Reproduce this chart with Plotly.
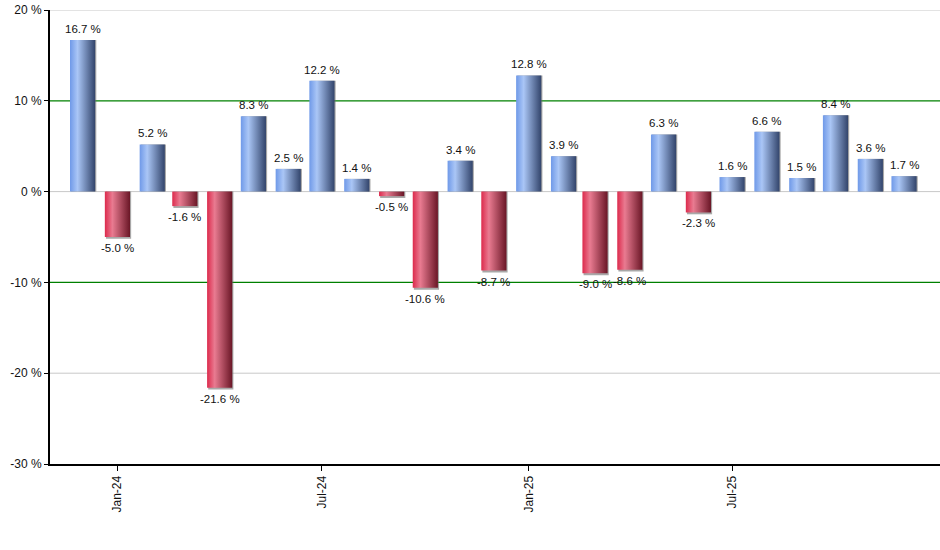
import plotly.graph_objects as go
import pandas as pd

months = ["2023-12", "2024-01", "2024-02", "2024-03", "2024-04", "2024-05", "2024-06",
          "2024-07", "2024-08", "2024-09", "2024-10", "2024-11", "2024-12",
          "2025-01", "2025-02", "2025-03", "2025-04", "2025-05", "2025-06",
          "2025-07", "2025-08", "2025-09", "2025-10", "2025-11", "2025-12"]
returns = [16.7, -5.0, 5.2, -1.6, -21.6, 8.3, 2.5, 12.2, 1.4, -0.5, -10.6, 3.4, -8.7,
           12.8, 3.9, -9.0, -8.6, 6.3, -2.3, 1.6, 6.6, 1.5, 8.4, 3.6, 1.7]
y_ticks = [20, 10, 0, -10, -20, -30]
y_tick_labels = ["20 %", "10 %", "0 %", "-10 %", "-20 %", "-30 %"]
x_ticks = ["2024-01-01", "2024-07-01", "2025-01-01", "2025-07-01"]
gray_grid = [20, 0, -20]
green_grid = [10, -10]

BLUE_SCALE = [[0, "#6f99e8"], [0.3, "#aac6f6"], [1, "#32446b"]]
RED_SCALE = [[0, "#dc2a4c"], [0.3, "#e97b91"], [1, "#6a1626"]]
HALF = pd.Timedelta(days=11.2)
SH = pd.Timedelta(days=1)
FONT = "Liberation Sans, Arial"

fig = go.Figure()
dates = [pd.Timestamp(m + "-01") for m in months]
for d, v in zip(dates, returns):
    x0, x1 = d - HALF, d + HALF
    vs = v - 0.2 if v < 0 else v
    fig.add_trace(go.Scatter(
        x=[x0 + SH, x0 + SH, x1 + SH, x1 + SH, x0 + SH], y=[0, vs, vs, 0, 0],
        mode="lines", fill="toself", fillcolor="rgba(110,110,110,0.6)",
        line=dict(width=0), hoverinfo="skip", showlegend=False))
    fig.add_trace(go.Scatter(
        x=[x0, x0, x1, x1, x0], y=[0, v, v, 0, 0],
        mode="lines", fill="toself",
        fillgradient=dict(type="horizontal", colorscale=BLUE_SCALE if v >= 0 else RED_SCALE),
        line=dict(width=0), hoverinfo="skip", showlegend=False))
    fig.add_annotation(x=d, y=v, text=f"{v:.1f} %", showarrow=False,
                       yanchor="bottom" if v >= 0 else "top",
                       yshift=3 if v >= 0 else -3,
                       font=dict(family=FONT, size=11.5, color="#111"))

for yv in gray_grid:
    fig.add_shape(type="line", xref="paper", x0=0, x1=1, yref="y", y0=yv, y1=yv,
                  line=dict(color="#c8c8c8", width=1), layer="below")
for yv in green_grid:
    fig.add_shape(type="line", xref="paper", x0=0, x1=1, yref="y", y0=yv, y1=yv,
                  line=dict(color="#008000", width=1.3), layer="below")

fig.update_layout(
    width=940, height=550,
    margin=dict(l=50, r=0, t=10, b=86),
    paper_bgcolor="white", plot_bgcolor="white",
    font=dict(family=FONT, size=12, color="#111"),
    xaxis=dict(type="date", range=["2023-11-02", "2026-01-02"],
               tickvals=x_ticks, tickformat="%b-%y", tickangle=-90,
               ticks="outside", ticklen=5, tickcolor="black",
               showline=True, linecolor="black", linewidth=2,
               showgrid=False, zeroline=False, automargin=False),
    yaxis=dict(range=[-30, 20], tickvals=y_ticks, ticktext=y_tick_labels,
               ticks="outside", ticklen=4, tickcolor="black",
               showline=True, linecolor="black", linewidth=2,
               showgrid=False, zeroline=False, automargin=False),
)

fig.write_html("out.html", config={"displayModeBar": False},
               post_script="document.body.style.margin='0px';")
